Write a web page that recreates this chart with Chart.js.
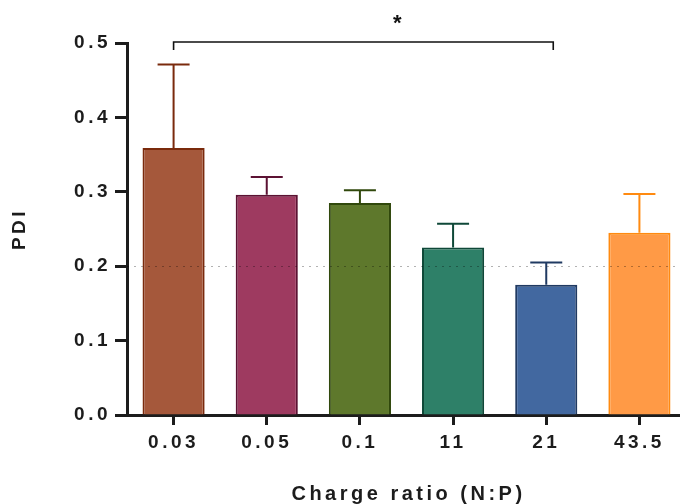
<!DOCTYPE html>
<html>
<head>
<meta charset="utf-8">
<script src="https://cdn.jsdelivr.net/npm/chart.js@4.4.1/dist/chart.umd.min.js"></script>
<style>
  html, body { margin: 0; padding: 0; background: #fff; overflow: hidden; }
  #wrap { width: 690px; height: 504px; }
</style>
</head>
<body>
<div id="wrap"><canvas id="pdiChart" width="690" height="504"></canvas></div>
<script>
// charge ratios (N:P)
const categories = ['0.03', '0.05', '0.1', '11', '21', '43.5'];
const pdiMean = [0.359, 0.296, 0.285, 0.225, 0.175, 0.245];
const pdiSD = [0.112, 0.024, 0.017, 0.032, 0.030, 0.052];
const yTicks = [0.0, 0.1, 0.2, 0.3, 0.4, 0.5];
const fillColors = ['#A5583B', '#9E3A60', '#5E782C', '#2E8068', '#4268A0', '#FF9A46'];
const edgeColors = ['#7A2A0C', '#5C1233', '#30480C', '#0F4838', '#203A62', '#FF8A10'];
const refLine = 0.2;
const sigPair = [0, 4];

const ink = '#1c1c1c';
const spacing = '3.5px';

// canvas text has no letter-spacing option in chart.js, set it on the context
const spacingPlugin = {
  id: 'spacing',
  beforeUpdate(chart) { chart.ctx.letterSpacing = spacing; },
  beforeLayout(chart) { chart.ctx.letterSpacing = spacing; },
  beforeDraw(chart) { chart.ctx.letterSpacing = spacing; }
};

const extrasPlugin = {
  id: 'extras',
  afterDatasetsDraw(chart) {
    const ctx = chart.ctx;
    const x = chart.scales.x, y = chart.scales.y;
    const bars = chart.getDatasetMeta(0).data;

    // error bars (upper only)
    bars.forEach((bar, i) => {
      const top = y.getPixelForValue(pdiMean[i] + pdiSD[i]);
      const base = y.getPixelForValue(pdiMean[i]);
      ctx.save();
      ctx.strokeStyle = edgeColors[i];
      ctx.lineWidth = 2;
      ctx.beginPath();
      ctx.moveTo(bar.x, base);
      ctx.lineTo(bar.x, top);
      ctx.moveTo(bar.x - 16, top);
      ctx.lineTo(bar.x + 16, top);
      ctx.stroke();
      ctx.restore();
    });

    // dotted reference line
    const ry = Math.round(y.getPixelForValue(refLine)) + 0.5;
    ctx.save();
    ctx.strokeStyle = 'rgba(0,0,0,0.3)';
    ctx.lineWidth = 1;
    ctx.setLineDash([2, 5]);
    ctx.beginPath();
    ctx.moveTo(chart.chartArea.left, ry);
    ctx.lineTo(chart.chartArea.right, ry);
    ctx.stroke();
    ctx.restore();

    // significance bracket
    const bx1 = x.getPixelForValue(sigPair[0]);
    const bx2 = x.getPixelForValue(sigPair[1]) + 7;
    const by = y.getPixelForValue(0.5) - 1;
    ctx.save();
    ctx.strokeStyle = '#111';
    ctx.lineWidth = 1.6;
    ctx.beginPath();
    ctx.moveTo(bx1, by + 8);
    ctx.lineTo(bx1, by);
    ctx.lineTo(bx2, by);
    ctx.lineTo(bx2, by + 8);
    ctx.stroke();
    ctx.fillStyle = '#111';
    ctx.font = 'bold 22px "Liberation Sans", Arial, sans-serif';
    ctx.letterSpacing = '0px';
    ctx.textAlign = 'center';
    ctx.textBaseline = 'middle';
    ctx.fillText('*', x.getPixelForValue(2.4), 24);
    ctx.restore();

    // x axis title
    ctx.save();
    ctx.fillStyle = ink;
    ctx.font = 'bold 20px "Liberation Sans", Arial, sans-serif';
    ctx.letterSpacing = spacing;
    ctx.textAlign = 'center';
    ctx.textBaseline = 'middle';
    ctx.fillText('Charge ratio (N:P)', (chart.chartArea.left + chart.chartArea.right) / 2 + 2, 494);
    ctx.restore();
  }
};

new Chart(document.getElementById('pdiChart'), {
  type: 'bar',
  data: {
    labels: categories,
    datasets: [{
      label: 'PDI',
      data: pdiMean,
      backgroundColor: fillColors,
      borderColor: edgeColors,
      borderWidth: 2,
      categoryPercentage: 1,
      barPercentage: 0.667
    }]
  },
  options: {
    responsive: false,
    animation: false,
    layout: { padding: { top: 43, right: 4, left: 0, bottom: 0 } },
    plugins: {
      legend: { display: false },
      tooltip: { enabled: false }
    },
    scales: {
      x: {
        grid: {
          offset: false,
          drawOnChartArea: false,
          tickLength: 10,
          tickWidth: 3,
          tickColor: ink
        },
        border: { color: ink, width: 3 },
        ticks: {
          color: ink,
          padding: 6,
          maxRotation: 0,
          font: { family: '"Liberation Sans", Arial, sans-serif', size: 19, weight: 'bold' }
        },
        afterFit(scale) { scale.height = 89; }
      },
      y: {
        min: 0,
        max: 0.5,
        afterBuildTicks(scale) { scale.ticks = yTicks.map(v => ({ value: v })); },
        grid: {
          drawOnChartArea: false,
          tickLength: 12,
          tickWidth: 3,
          tickColor: ink
        },
        border: { color: ink, width: 3 },
        ticks: {
          color: ink,
          padding: 4,
          callback: v => v.toFixed(1),
          font: { family: '"Liberation Sans", Arial, sans-serif', size: 19, weight: 'bold' }
        },
        title: {
          display: true,
          text: 'PDI',
          color: ink,
          padding: { top: 8, bottom: 0 },
          font: { family: '"Liberation Sans", Arial, sans-serif', size: 19, weight: 'bold' }
        },
        afterFit(scale) { scale.width = 127; }
      }
    }
  },
  plugins: [spacingPlugin, extrasPlugin]
});
</script>
</body>
</html>
